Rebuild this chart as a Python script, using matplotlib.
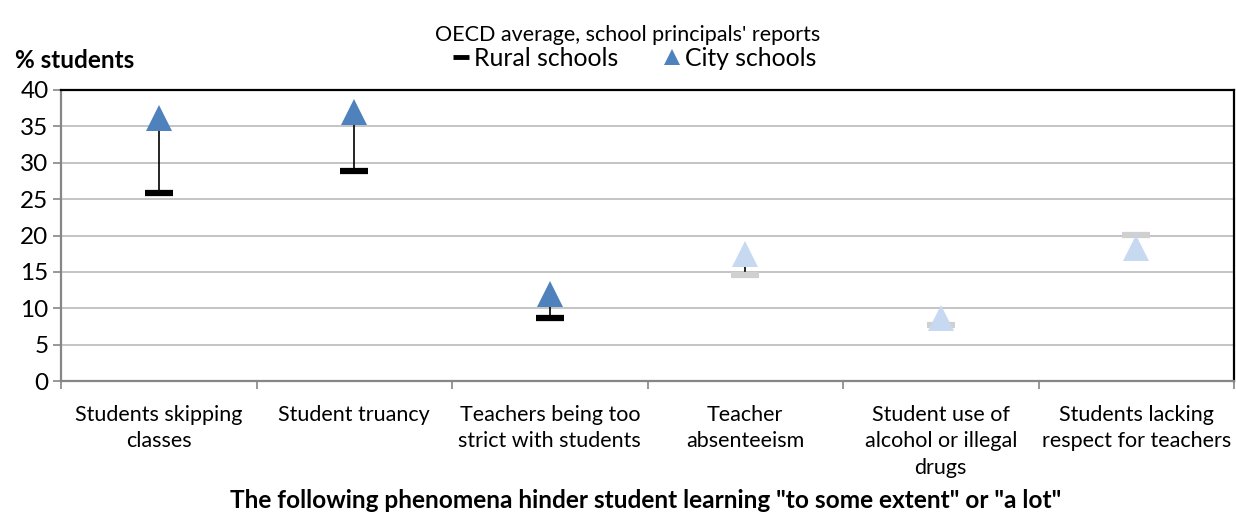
import matplotlib.pyplot as plt
from matplotlib.lines import Line2D

categories = [
    "Students skipping\nclasses",
    "Student truancy",
    "Teachers being too\nstrict with students",
    "Teacher\nabsenteeism",
    "Student use of\nalcohol or illegal\ndrugs",
    "Students lacking\nrespect for teachers",
]
rural = [25.9, 28.9, 8.7, 14.6, 7.7, 20.1]
city = [36.1, 37.0, 12.0, 17.5, 8.7, 18.3]
significant = [True, True, True, False, False, False]

CITY_DARK = "#4F81BD"
CITY_LIGHT = "#C6D9F1"
RURAL_DARK = "#000000"
RURAL_LIGHT = "#D0D0D0"


def main():
    plt.rcParams['font.family'] = ['Lato', 'DejaVu Sans']
    fig = plt.figure(figsize=(12.36, 5.12), dpi=100)
    ax = fig.add_axes([61 / 1236, 1 - 381 / 512, (1234 - 61) / 1236, (381 - 90) / 512])

    x = list(range(len(categories)))

    # high-low lines between the two series
    for xi, r, c in zip(x, rural, city):
        ax.plot([xi, xi], [r, c], color='black', lw=1.2, zorder=2)

    for xi, r, c, sig in zip(x, rural, city, significant):
        ax.plot(xi, r, marker='_', markersize=19.5, mew=4.5,
                color=RURAL_DARK if sig else RURAL_LIGHT, zorder=3)
        ax.plot(xi, c, marker='^', markersize=18.5, mew=0,
                color=CITY_DARK if sig else CITY_LIGHT, zorder=4)

    ax.set_xlim(-0.5, len(categories) - 0.5)
    ax.set_ylim(0, 40)
    ax.set_yticks(range(0, 41, 5))
    ax.yaxis.grid(True, color='#BFBFBF', lw=1.3)
    ax.set_axisbelow(True)

    ax.set_xticks([i - 0.5 for i in range(len(categories) + 1)])
    ax.set_xticklabels([])
    ax.set_xticks(x, minor=True)
    ax.set_xticklabels(categories, minor=True, fontsize=15.5, linespacing=1.42)
    ax.tick_params(axis='x', which='minor', length=0, pad=17)
    ax.tick_params(axis='x', which='major', length=6, color='#868686', width=1.2)
    ax.tick_params(axis='y', length=6, color='#868686', width=1.2, labelsize=17.5, pad=3)

    for side in ('top', 'right'):
        ax.spines[side].set_color('black')
        ax.spines[side].set_linewidth(1.6)
    for side in ('left', 'bottom'):
        ax.spines[side].set_color('#868686')
        ax.spines[side].set_linewidth(1.6)

    fig.text(628 / 1236, 1 - 35 / 512, "OECD average, school principals' reports",
             ha='center', va='center', fontsize=15.5)
    fig.text(15 / 1236, 1 - 61 / 512, "% students", ha='left', va='center',
             fontsize=17.5, fontweight='bold')
    fig.text(646 / 1236, 1 - 500 / 512,
             'The following phenomena hinder student learning "to some extent" or "a lot"',
             ha='center', va='center', fontsize=17.6, fontweight='bold')

    handles = [
        Line2D([], [], ls='none', marker='_', markersize=11, mew=3.5, color=RURAL_DARK),
        Line2D([], [], ls='none', marker='^', markersize=11, mew=0, color=CITY_DARK),
    ]
    fig.legend(handles, ["Rural schools", "City schools"], loc='center',
               bbox_to_anchor=(635 / 1236, 1 - 58 / 512), ncol=2, frameon=False,
               fontsize=17.8, handlelength=0.6, handletextpad=0.2, columnspacing=1.9)

    fig.savefig('out.png', dpi=100)


if __name__ == '__main__':
    main()
